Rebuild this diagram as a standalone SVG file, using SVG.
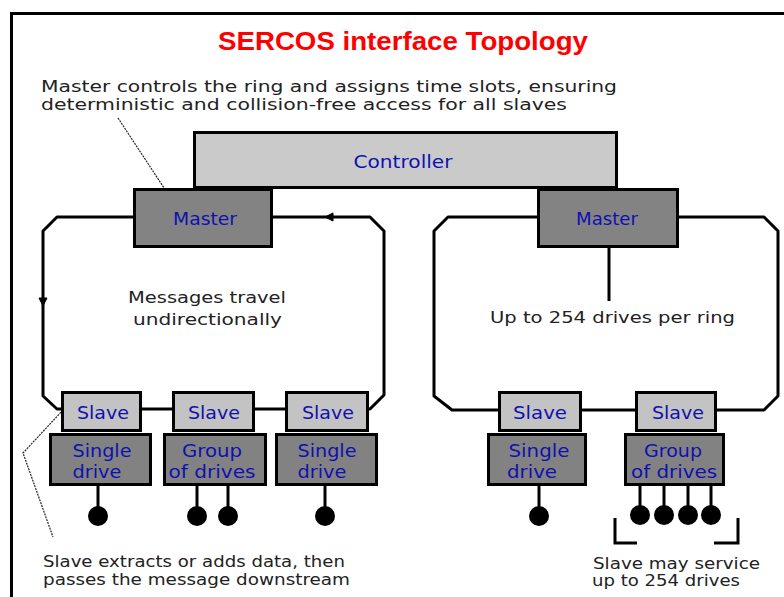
<svg xmlns="http://www.w3.org/2000/svg" width="784" height="597" viewBox="0 0 784 597">
<defs>
<style>
.frame{fill:none;stroke:#000;stroke-width:3}
.ring{fill:none;stroke:#000;stroke-width:3;stroke-linejoin:round}
.box{stroke:#000;stroke-width:3}
.ctrl{fill:#cacaca}
.master{fill:#838383}
.slave{fill:#c3c3c3}
.drive{fill:#828282}
.lbl{font-family:"DejaVu Sans",Verdana,sans-serif;font-size:17px;fill:#1010b0;text-anchor:middle}
.note{font-family:"DejaVu Sans",Verdana,sans-serif;font-size:16px;fill:#222}
.small{font-size:15px}
.pin{stroke:#000;stroke-width:3}
.ball{fill:#000}
.lead{fill:none;stroke:#222;stroke-width:1.2;stroke-dasharray:2 1}
.title{font-family:"Liberation Sans",Arial,sans-serif;font-weight:bold;font-size:25px;fill:#ff0000}
</style>
</defs>
<rect width="784" height="597" fill="#fff"/>
<path class="frame" d="M11.5,597 V13.5 H784"/>

<text class="title" x="218" y="50" textLength="370" lengthAdjust="spacingAndGlyphs">SERCOS interface Topology</text>
<text class="note" x="41" y="92" textLength="576" lengthAdjust="spacingAndGlyphs">Master controls the ring and assigns time slots, ensuring</text>
<text class="note" x="41" y="110" textLength="526" lengthAdjust="spacingAndGlyphs">deterministic and collision-free access for all slaves</text>

<g id="connectors">
<path class="ring" d="M57,217 H370 L384,231 V395 L370,409 H57 L43,396 V231 Z"/>
<path class="ring" d="M448,217 H764 L778,231 V396 L764,410 H452 L434,396 V231 Z"/>
<path d="M43,298 L39,298 L43,306 L47,298 Z" fill="#000" stroke="#000" stroke-width="1"/>
<path d="M325,217 L333,213 L333,221 Z" fill="#000" stroke="#000" stroke-width="1"/>
<line class="pin" x1="609" y1="247" x2="609" y2="301"/>
<path class="lead" d="M118,118 L170,197"/>
<path class="lead" d="M63,410 L23,453 L53,537"/>
<line class="pin" x1="98" y1="485" x2="98" y2="516"/>
<line class="pin" x1="197" y1="485" x2="197" y2="516"/>
<line class="pin" x1="228" y1="485" x2="228" y2="516"/>
<line class="pin" x1="325" y1="485" x2="325" y2="516"/>
<line class="pin" x1="539" y1="485" x2="539" y2="516"/>
<line class="pin" x1="640" y1="485" x2="640" y2="515"/>
<line class="pin" x1="664" y1="485" x2="664" y2="515"/>
<line class="pin" x1="688" y1="485" x2="688" y2="515"/>
<line class="pin" x1="711" y1="485" x2="711" y2="515"/>
<path class="pin" fill="none" d="M615,518 V543 H637"/>
<path class="pin" fill="none" d="M714,543 H738 V518"/>
</g>

<g id="controller">
<rect class="box ctrl" x="194.5" y="132.5" width="422" height="55"/>
<text class="lbl" x="403" y="168" textLength="99" lengthAdjust="spacingAndGlyphs">Controller</text>
</g>
<g id="master-left">
<rect class="box master" x="134.5" y="189.5" width="137" height="57"/>
<text class="lbl" x="205" y="225" textLength="64" lengthAdjust="spacingAndGlyphs">Master</text>
</g>
<g id="master-right">
<rect class="box master" x="538.5" y="189.5" width="139" height="57"/>
<text class="lbl" x="607" y="225" textLength="62" lengthAdjust="spacingAndGlyphs">Master</text>
</g>

<g id="slave-1">
<rect class="box slave" x="62.5" y="392.5" width="78" height="38"/>
<text class="lbl" x="103" y="419" textLength="52" lengthAdjust="spacingAndGlyphs">Slave</text>
</g>
<g id="drive-1">
<rect class="box drive" x="50.5" y="434.5" width="100" height="50"/>
<text class="lbl" x="102" y="457" textLength="59" lengthAdjust="spacingAndGlyphs">Single</text>
<text class="lbl" x="97" y="478" textLength="49" lengthAdjust="spacingAndGlyphs">drive</text>
</g>
<g id="slave-2">
<rect class="box slave" x="173.5" y="392.5" width="80" height="38"/>
<text class="lbl" x="214" y="419" textLength="52" lengthAdjust="spacingAndGlyphs">Slave</text>
</g>
<g id="drive-2">
<rect class="box drive" x="164.5" y="434.5" width="101" height="50"/>
<text class="lbl" x="212" y="457" textLength="60" lengthAdjust="spacingAndGlyphs">Group</text>
<text class="lbl" x="212" y="478" textLength="87" lengthAdjust="spacingAndGlyphs">of drives</text>
</g>
<g id="slave-3">
<rect class="box slave" x="286.5" y="392.5" width="81" height="38"/>
<text class="lbl" x="328" y="419" textLength="52" lengthAdjust="spacingAndGlyphs">Slave</text>
</g>
<g id="drive-3">
<rect class="box drive" x="276.5" y="434.5" width="100" height="50"/>
<text class="lbl" x="327" y="457" textLength="59" lengthAdjust="spacingAndGlyphs">Single</text>
<text class="lbl" x="322" y="478" textLength="49" lengthAdjust="spacingAndGlyphs">drive</text>
</g>
<g id="slave-4">
<rect class="box slave" x="499.5" y="392.5" width="81" height="38"/>
<text class="lbl" x="540" y="419" textLength="54" lengthAdjust="spacingAndGlyphs">Slave</text>
</g>
<g id="drive-4">
<rect class="box drive" x="488.5" y="434.5" width="97" height="50"/>
<text class="lbl" x="539" y="457" textLength="61" lengthAdjust="spacingAndGlyphs">Single</text>
<text class="lbl" x="532" y="478" textLength="50" lengthAdjust="spacingAndGlyphs">drive</text>
</g>
<g id="slave-5">
<rect class="box slave" x="636.5" y="392.5" width="79" height="38"/>
<text class="lbl" x="678" y="419" textLength="52" lengthAdjust="spacingAndGlyphs">Slave</text>
</g>
<g id="drive-5">
<rect class="box drive" x="625.5" y="434.5" width="98" height="50"/>
<text class="lbl" x="673" y="457" textLength="58" lengthAdjust="spacingAndGlyphs">Group</text>
<text class="lbl" x="674" y="478" textLength="86" lengthAdjust="spacingAndGlyphs">of drives</text>
</g>

<g id="drives-balls">
<circle class="ball" cx="98" cy="516" r="10"/>
<circle class="ball" cx="197" cy="516" r="10"/>
<circle class="ball" cx="228" cy="516" r="10"/>
<circle class="ball" cx="325" cy="516" r="10"/>
<circle class="ball" cx="539" cy="516" r="10"/>
<circle class="ball" cx="640" cy="515" r="10"/>
<circle class="ball" cx="664" cy="515" r="10"/>
<circle class="ball" cx="688" cy="515" r="10"/>
<circle class="ball" cx="711" cy="515" r="10"/>
</g>

<g id="notes">
<text class="note" x="128" y="303" textLength="158" lengthAdjust="spacingAndGlyphs">Messages travel</text>
<text class="note" x="133" y="325" textLength="149" lengthAdjust="spacingAndGlyphs">undirectionally</text>
<text class="note" x="490" y="323" textLength="245" lengthAdjust="spacingAndGlyphs">Up to 254 drives per ring</text>
<text class="note small" x="43" y="567" textLength="302" lengthAdjust="spacingAndGlyphs">Slave extracts or adds data, then</text>
<text class="note small" x="43" y="585" textLength="307" lengthAdjust="spacingAndGlyphs">passes the message downstream</text>
<text class="note small" x="593" y="569" textLength="167" lengthAdjust="spacingAndGlyphs">Slave may service</text>
<text class="note small" x="592" y="586" textLength="148" lengthAdjust="spacingAndGlyphs">up to 254 drives</text>
</g>
</svg>
